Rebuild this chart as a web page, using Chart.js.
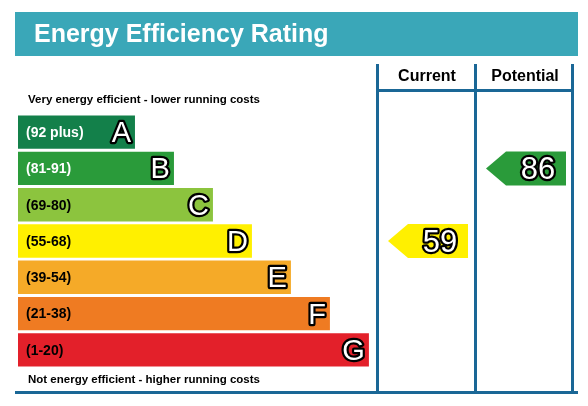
<!DOCTYPE html>
<html><head><meta charset="utf-8">
<script src="https://cdn.jsdelivr.net/npm/chart.js@4"></script>
<style>html,body{margin:0;padding:0;background:#fff}#w{width:588px;height:406px;position:relative}</style>
</head><body><div id="w"><canvas id="c" width="588" height="406"></canvas></div>
<script>
const bands = ['A','B','C','D','E','F','G'];
const ranges = ['(92 plus)','(81-91)','(69-80)','(55-68)','(39-54)','(21-38)','(1-20)'];
const barLengths = [3,4,5,6,7,8,9];
const bandColors = ['#13804a','#2a9b3a','#8cc43e','#fff000','#f5aa28','#ef7b22','#e3202a'];
const labelColors = ['#fff','#fff','#000','#000','#000','#000','#000'];
const currentRating = 59, currentBand = 'D';
const potentialRating = 86, potentialBand = 'B';
const FF = 'Arimo, "Liberation Sans", Arial, sans-serif';

function outlined(ctx, txt, x, y, size, align){
  ctx.font = size+'px '+FF;
  ctx.textAlign = align; ctx.textBaseline = 'middle';
  ctx.lineJoin = 'round'; ctx.lineWidth = 4.5; ctx.strokeStyle = '#000';
  ctx.strokeText(txt, x, y); ctx.fillStyle = '#fff'; ctx.fillText(txt, x, y);
}
const deco = {
  id:'deco',
  beforeDraw(ch){
    const ctx = ch.ctx;
    ctx.save();
    ctx.fillStyle = '#3aa7b8'; ctx.fillRect(15,12,563,44);
    ctx.fillStyle = '#fff'; ctx.font = 'bold 25px '+FF;
    ctx.textBaseline = 'middle'; ctx.textAlign='left';
    ctx.fillText('Energy Efficiency Rating', 34, 35);
    ctx.fillStyle = '#1a6796';
    ctx.fillRect(376,64,3,330); ctx.fillRect(474,64,3,330); ctx.fillRect(571,64,3,330);
    ctx.fillRect(376,89,198,3); ctx.fillRect(15,391,563,3);
    ctx.fillStyle = '#000'; ctx.font = 'bold 16px '+FF;
    ctx.textAlign='center';
    ctx.fillText('Current', 427, 77); ctx.fillText('Potential', 525, 77);
    ctx.font = 'bold 11.5px '+FF; ctx.textAlign='left';
    ctx.fillText('Very energy efficient - lower running costs', 28, 100);
    ctx.fillText('Not energy efficient - higher running costs', 28, 380);
    ctx.restore();
  },
  afterDatasetsDraw(ch){
    const ctx = ch.ctx, x = ch.scales.x, y = ch.scales.y;
    ctx.save();
    bands.forEach((b,i)=>{
      const py = y.getPixelForValue(i);
      ctx.font = 'bold 14px '+FF;
      ctx.textAlign='left'; ctx.textBaseline='middle'; ctx.fillStyle = labelColors[i];
      ctx.fillText(ranges[i], 26, py+1);
      outlined(ctx, b, x.getPixelForValue(barLengths[i])-4, py+2, 29, 'right');
    });
    function arrow(val, band, left, right){
      const i = bands.indexOf(band), py = y.getPixelForValue(i), h = 17;
      ctx.beginPath(); ctx.moveTo(left, py); ctx.lineTo(left+20, py-h); ctx.lineTo(right, py-h);
      ctx.lineTo(right, py+h); ctx.lineTo(left+20, py+h); ctx.closePath();
      ctx.fillStyle = bandColors[i]; ctx.fill();
      outlined(ctx, String(val), (left+20+right)/2+2, py+2, 31, 'center');
    }
    arrow(currentRating, currentBand, 388, 468);
    arrow(potentialRating, potentialBand, 486, 566);
    ctx.restore();
  }
};
new Chart(document.getElementById('c'), {
  type:'bar',
  data:{labels:bands, datasets:[{data:barLengths, backgroundColor:bandColors, barPercentage:0.92, categoryPercentage:1, borderWidth:0}]},
  options:{
    indexAxis:'y', responsive:false, animation:false,
    layout:{padding:{left:18,right:14,top:114,bottom:38}},
    plugins:{legend:{display:false}, tooltip:{enabled:false}},
    scales:{x:{display:false,min:0,max:14.26}, y:{display:false}}
  },
  plugins:[deco]
});
</script></body></html>
